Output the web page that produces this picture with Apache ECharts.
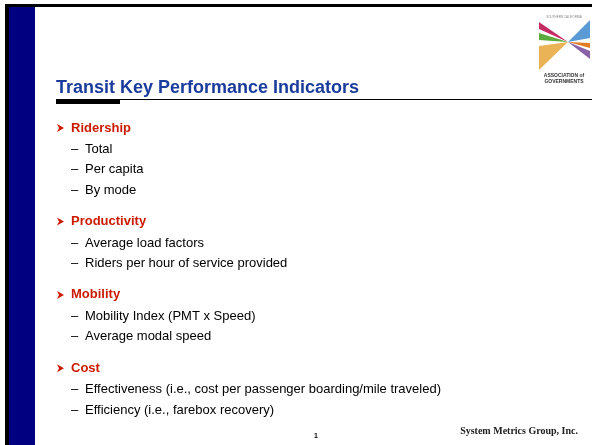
<!DOCTYPE html>
<html>
<head>
<meta charset="utf-8">
<style>
  html, body { margin: 0; padding: 0; background: #fff; }
  #slide { width: 592px; height: 445px; }
</style>
<script src="https://cdn.jsdelivr.net/npm/echarts@6/dist/echarts.min.js"></script>
</head>
<body>
<div id="slide"></div>
<script>
// slide content
const title = 'Transit Key Performance Indicators'
const headings = ['Ridership', 'Productivity', 'Mobility', 'Cost']
const subItems = [
  ['Total', 'Per capita', 'By mode'],
  ['Average load factors', 'Riders per hour of service provided'],
  ['Mobility Index (PMT x Speed)', 'Average modal speed'],
  ['Effectiveness (i.e., cost per passenger boarding/mile traveled)', 'Efficiency (i.e., farebox recovery)']
]
const footerLeft = '1'
const footerRight = 'System Metrics Group, Inc.'
const logoTop = 'SOUTHERN CALIFORNIA'
const logoBottom = ['ASSOCIATION of', 'GOVERNMENTS']

const chart = echarts.init(document.getElementById('slide'), null, { renderer: 'canvas' })

const font = 'Liberation Sans, Arial, sans-serif'
const red = '#cc1a00'
const elements = []

// frame: black edges + navy side bar
elements.push({ type: 'rect', shape: { x: 5, y: 4, width: 587, height: 3 }, style: { fill: '#000' } })
elements.push({ type: 'rect', shape: { x: 5, y: 4, width: 4, height: 441 }, style: { fill: '#000' } })
elements.push({ type: 'rect', shape: { x: 9, y: 7, width: 26, height: 438 }, style: { fill: '#000080' } })

// title + underline
elements.push({
  type: 'text', x: 56, y: 88,
  style: { text: title, font: 'bold 18px ' + font, fill: '#1a3c9c', textVerticalAlign: 'middle' }
})
elements.push({ type: 'rect', shape: { x: 120, y: 99, width: 472, height: 1 }, style: { fill: '#000' } })
elements.push({ type: 'rect', shape: { x: 56, y: 99, width: 64, height: 5 }, style: { fill: '#000' } })

// logo (small SCAG mark, top right)
const lx = 539, ly = 14
const wedges = [
  { c: '#c42b63', pts: [[0, 8], [0, 15], [29, 28]] },
  { c: '#5aaa3c', pts: [[0, 19], [0, 26], [29, 28]] },
  { c: '#eab456', pts: [[0, 32], [0, 56], [29, 28]] },
  { c: '#5b9bd5', pts: [[51, 6], [51, 24], [29, 28]] },
  { c: '#e07b22', pts: [[51, 29], [51, 34], [29, 28]] },
  { c: '#8a62a8', pts: [[51, 37], [51, 45], [29, 28]] }
]
wedges.forEach(w => {
  elements.push({
    type: 'polygon',
    shape: { points: w.pts.map(p => [lx + p[0], ly + p[1]]) },
    style: { fill: w.c }
  })
})
elements.push({
  type: 'text', x: lx + 25, y: ly + 3,
  style: { text: logoTop, font: '3px ' + font, fill: '#888', textAlign: 'center', textVerticalAlign: 'middle' }
})
logoBottom.forEach((t, i) => {
  elements.push({
    type: 'text', x: lx + 25, y: ly + 62 + i * 6,
    style: { text: t, font: 'bold 5px ' + font, fill: '#333', textAlign: 'center', textVerticalAlign: 'middle' }
  })
})

// bullets
let y = 128
headings.forEach((h, gi) => {
  elements.push({
    type: 'polygon',
    shape: { points: [[57, y - 4], [64, y], [57, y + 4], [59, y]] },
    style: { fill: red }
  })
  elements.push({
    type: 'text', x: 71, y: y,
    style: { text: h, font: 'bold 13px ' + font, fill: red, textVerticalAlign: 'middle' }
  })
  y += 21.5
  subItems[gi].forEach((s, si) => {
    elements.push({
      type: 'text', x: 71, y: y,
      style: { text: '\u2013', font: '13px ' + font, fill: '#000', textVerticalAlign: 'middle' }
    })
    elements.push({
      type: 'text', x: 85, y: y,
      style: { text: s, font: '13px ' + font, fill: '#000', textVerticalAlign: 'middle' }
    })
    if (si < subItems[gi].length - 1) y += 20.3
  })
  y += 31.5
})

// footer
elements.push({
  type: 'text', x: 316, y: 436,
  style: { text: footerLeft, font: 'bold 7px ' + font, fill: '#000', textAlign: 'center', textVerticalAlign: 'middle' }
})
elements.push({
  type: 'text', x: 578, y: 431,
  style: { text: footerRight, font: 'bold 10px Liberation Serif, Times New Roman, serif', fill: '#222', textAlign: 'right', textVerticalAlign: 'middle' }
})

chart.setOption({
  backgroundColor: '#fff',
  animation: false,
  graphic: { elements: elements }
})
</script>
</body>
</html>
